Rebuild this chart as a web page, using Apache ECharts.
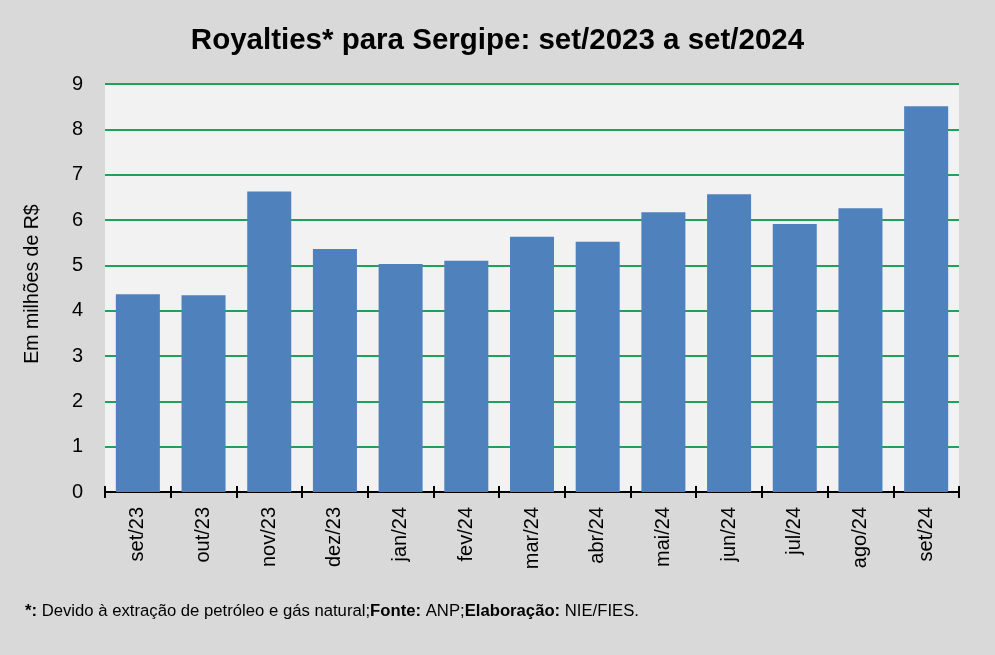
<!DOCTYPE html>
<html>
<head>
<meta charset="utf-8">
<script src="https://cdn.jsdelivr.net/npm/echarts@6/dist/echarts.min.js"></script>
<style>
  html, body { margin: 0; padding: 0; background: #d9d9d9; }
  #chart { width: 995px; height: 655px; }
</style>
</head>
<body>
<div id="chart"></div>
<script>
  /* dados (milhões de R$) */
  const meses = ['set/23', 'out/23', 'nov/23', 'dez/23', 'jan/24', 'fev/24', 'mar/24',
                 'abr/24', 'mai/24', 'jun/24', 'jul/24', 'ago/24', 'set/24'];
  const royalties = [4.36, 4.34, 6.63, 5.36, 5.03, 5.10, 5.63, 5.52, 6.17, 6.57, 5.91, 6.26, 8.51];
  const yTicks = [0, 9, 1]; // min, max, intervalo

  const FONT = "'Liberation Sans', Arial, sans-serif";

  const chart = echarts.init(document.getElementById('chart'), null, { renderer: 'canvas' });

  const xBase = {
    type: 'category',
    data: meses,
    axisLine: { show: true, lineStyle: { color: '#000', width: 2 } },
    axisTick: { show: true, length: 6, lineStyle: { color: '#000', width: 2 } },
  };

  chart.setOption({
    backgroundColor: '#d9d9d9',
    animation: false,
    title: {
      text: 'Royalties* para Sergipe: set/2023 a set/2024',
      left: 'center',
      top: 21,
      textStyle: { fontFamily: FONT, fontWeight: 'bold', fontSize: 29.5, color: '#000' },
    },
    grid: {
      left: 105, right: 36, top: 84, bottom: 163,
      show: true, backgroundColor: '#f2f2f2', borderWidth: 0,
    },
    xAxis: [
      Object.assign({}, xBase, {
        axisLabel: { rotate: 90, margin: 15, fontFamily: FONT, fontSize: 20, color: '#000' },
      }),
      // segunda camada só para os ticks cruzando o eixo
      Object.assign({}, xBase, {
        position: 'bottom',
        axisTick: { show: true, inside: true, length: 6, lineStyle: { color: '#000', width: 2 } },
        axisLabel: { show: false },
      }),
    ],
    yAxis: {
      type: 'value',
      min: yTicks[0], max: yTicks[1], interval: yTicks[2],
      name: 'Em milhões de R$',
      nameLocation: 'middle',
      nameGap: 62,
      nameTextStyle: { fontFamily: FONT, fontSize: 19.5, color: '#000', padding: [0, 0, 0, 8] },
      axisLine: { show: false },
      axisTick: { show: false },
      axisLabel: { margin: 22, fontFamily: FONT, fontSize: 20, color: '#000' },
      splitLine: { lineStyle: { color: '#22a05a', width: 2 } },
    },
    series: [{
      type: 'bar',
      data: royalties,
      barCategoryGap: '33%',
      itemStyle: { color: '#4f81bd' },
    }],
    graphic: [{
      type: 'text',
      left: 25,
      top: 603,
      style: {
        text: '{b|*:} Devido à extração de petróleo e gás natural;{b|Fonte:} ANP;{b|Elaboração:} NIE/FIES.',
        fontFamily: FONT,
        fontSize: 16.7,
        fill: '#000',
        rich: { b: { fontFamily: FONT, fontSize: 16.7, fontWeight: 'bold', fill: '#000' } },
      },
    }],
  });
</script>
</body>
</html>
